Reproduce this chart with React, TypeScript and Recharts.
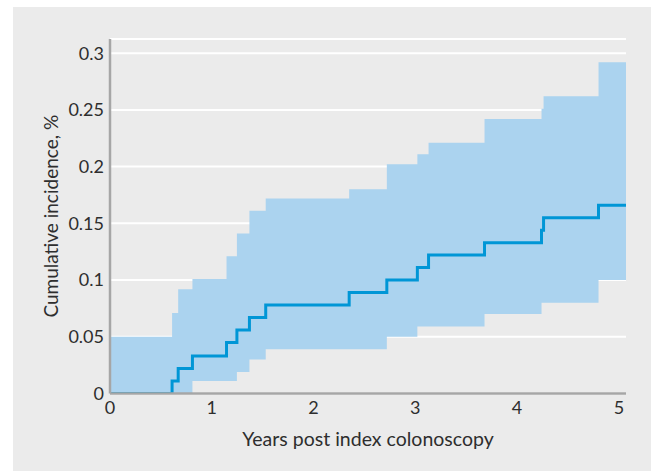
import React from "react";
import {
  ComposedChart,
  Area,
  Line,
  XAxis,
  YAxis,
  CartesianGrid,
  Label,
} from "recharts";

// Event times (years post index colonoscopy)
const times = [0, 0.61, 0.67, 0.81, 1.145, 1.247, 1.37, 1.53, 2.35, 2.72, 3.02, 3.13, 3.68, 4.24, 4.26, 4.8, 5.07];
// Cumulative incidence estimate
const estimate = [0, 0.011, 0.022, 0.033, 0.045, 0.056, 0.067, 0.078, 0.089, 0.1, 0.111, 0.122, 0.133, 0.144, 0.155, 0.166, 0.166];
// Confidence band
const lower = [0, 0, 0, 0.011, 0.011, 0.019, 0.03, 0.039, 0.039, 0.05, 0.059, 0.059, 0.07, 0.08, 0.08, 0.1, 0.1];
const upper = [0.05, 0.071, 0.092, 0.101, 0.121, 0.141, 0.161, 0.172, 0.18, 0.202, 0.211, 0.221, 0.242, 0.251, 0.262, 0.292, 0.292];

const xTicks = [0, 1, 2, 3, 4, 5];
const yTicks = [0, 0.05, 0.1, 0.15, 0.2, 0.25, 0.3];

const data = times.map((t, i) => ({
  t,
  est: estimate[i],
  band: [lower[i], upper[i]],
}));

const FONT = "Lato, 'Open Sans', sans-serif";
const TEXT = "#2e2e2e";

export default function App() {
  return (
    <div style={{ position: "absolute", left: 0, top: 0, width: 651, height: 471, background: "#ffffff" }}>
      <div style={{ position: "absolute", left: 13, top: 7, width: 638, height: 464, background: "#ebebeb" }} />
      <div style={{ position: "absolute", left: 0, top: 0 }}>
        <ComposedChart
          width={651}
          height={471}
          data={data}
          margin={{ top: 39, right: 25, bottom: 17.5, left: 50 }}
        >
          <CartesianGrid horizontal={true} vertical={false} stroke="#ffffff" strokeWidth={2} />
          <XAxis
            type="number"
            dataKey="t"
            domain={[0, 5.07]}
            ticks={xTicks}
            allowDataOverflow
            height={60}
            axisLine={{ stroke: "#a6a6a6", strokeWidth: 2.5 }}
            tickLine={false}
            tickSize={0}
            tickMargin={8}
            tick={{ fill: TEXT, fontSize: 18, fontFamily: FONT }}
          >
            <Label
              value="Years post index colonoscopy"
              position="insideBottom"
              offset={8}
              style={{ fill: TEXT, fontSize: 19.5, fontFamily: FONT }}
            />
          </XAxis>
          <YAxis
            type="number"
            domain={[0, 0.3125]}
            ticks={yTicks}
            allowDataOverflow
            width={60}
            axisLine={{ stroke: "#a6a6a6", strokeWidth: 2.5 }}
            tickLine={false}
            tickSize={0}
            tickMargin={6}
            tick={{ fill: TEXT, fontSize: 18, fontFamily: FONT }}
          >
            <Label
              value="Cumulative incidence, %"
              angle={-90}
              position="insideLeft"
              offset={0}
              dx={1}
              style={{ fill: TEXT, fontSize: 19, fontFamily: FONT, textAnchor: "middle" }}
            />
          </YAxis>
          <Area
            type="stepAfter"
            dataKey="band"
            stroke="none"
            fill="#abd3ef"
            fillOpacity={1}
            isAnimationActive={false}
            activeDot={false}
          />
          <Line
            type="stepAfter"
            dataKey="est"
            stroke="#0096d6"
            strokeWidth={3}
            dot={false}
            activeDot={false}
            isAnimationActive={false}
          />
        </ComposedChart>
      </div>
    </div>
  );
}
